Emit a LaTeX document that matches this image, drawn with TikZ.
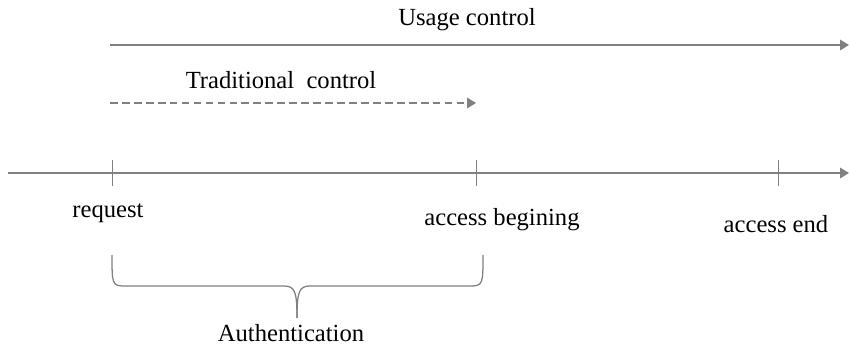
\documentclass[tikz,border=0pt]{standalone}
\usepackage{fontspec}
\setmainfont{Liberation Serif}
\usetikzlibrary{positioning,arrows.meta}
\definecolor{lngray}{RGB}{128,128,128}
\tikzset{
  >={Triangle[length=2.2mm,width=2.6mm]},
  axis/.style={->,draw=lngray,line width=0.9pt},
  span/.style={->,draw=lngray,line width=0.9pt},
  spandash/.style={->,draw=lngray,line width=0.9pt,dash pattern=on 5.5pt off 3pt},
  tick/.style={draw=lngray,line width=0.7pt},
  brc/.style={draw=lngray,line width=0.9pt},
  lbl/.style={font=\fontsize{17.5}{20}\selectfont,inner sep=1pt},
}
\begin{document}
\begin{tikzpicture}[x=0.025cm,y=-0.025cm]
  \useasboundingbox (0,0) rectangle (849,347);
  % timeline
  \coordinate (t0) at (8,173);
  \coordinate (t1) at (849,173);
  \draw[axis] (t0) -- (t1);
  \coordinate (req) at (112,173);
  \coordinate (beg) at (476,173);
  \coordinate (end) at (778,173);
  \foreach \p in {req,beg,end}
    \draw[tick] ([yshift=0.33cm]\p) -- ([yshift=-0.33cm]\p);
  \node[lbl] (reqlbl) at (108,213) {request};
  \node[lbl] (beglbl) at (502,220) {access begining};
  \node[lbl] (endlbl) at (776,224) {access end};
  % control spans
  \coordinate (u0) at (110,45);
  \coordinate (u1) at (849,45);
  \draw[span] (u0) -- (u1);
  \node[lbl] (usage) at (467,20) {Usage control};
  \coordinate (c0) at (110,103);
  \coordinate (c1) at (476,103);
  \draw[spandash] (c0) -- (c1);
  \node[lbl] (trad) at (281,80) {Traditional\ \ control};
  % brace
  \coordinate (bl) at (112,255);
  \coordinate (br) at (483,255);
  \coordinate (btip) at (297,318);
  \draw[brc] (bl) .. controls (112,283) and (112,286) .. (124,286) -- (284,286)
    .. controls (295,286) and (297,292) .. (btip);
  \draw[brc] (br) .. controls (483,283) and (483,286) .. (471,286) -- (310,286)
    .. controls (299,286) and (297,292) .. (btip);
  \node[lbl] (auth) at (291,333) {Authentication};
\end{tikzpicture}
\end{document}
